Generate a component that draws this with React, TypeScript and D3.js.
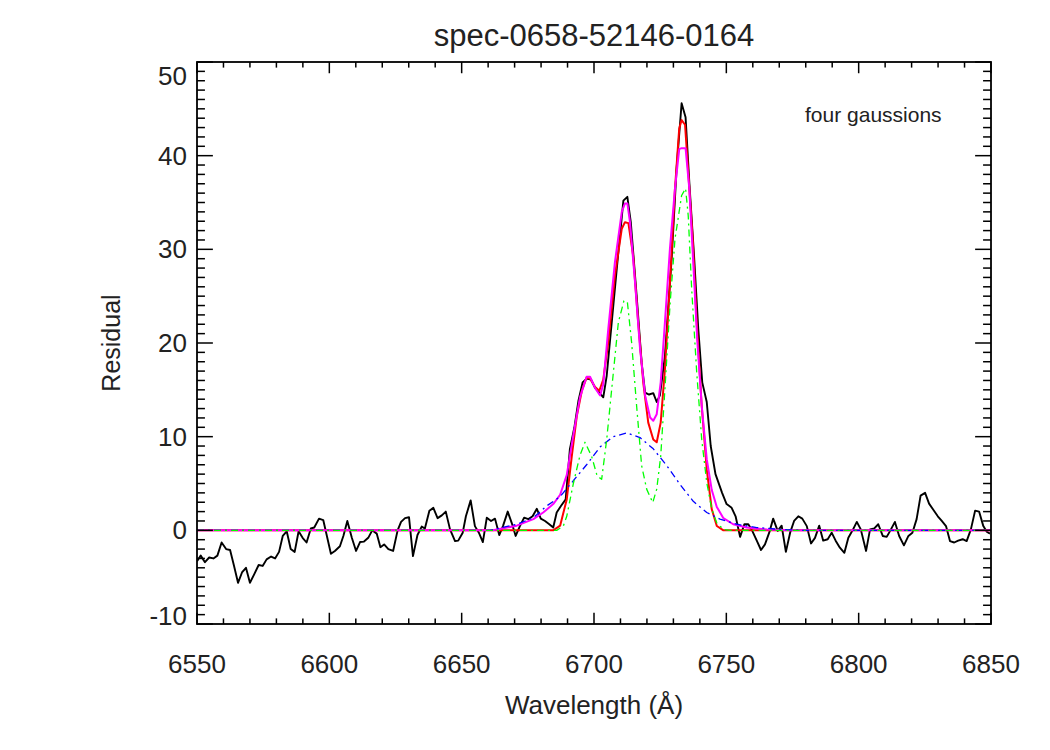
import React from "react";
import * as d3 from "d3";

const width = 1050;
const height = 750;
const frame = { left: 197, right: 991, top: 62, bottom: 624 };

const title = "spec-0658-52146-0164";
const xLabel = "Wavelength (Å)";
const yLabel = "Residual";
const note = "four gaussions";

const xTicks = [6550, 6600, 6650, 6700, 6750, 6800, 6850];
const yTicks = [-10, 0, 10, 20, 30, 40, 50];

// observed residual spectrum [wavelength, residual]
const observed: [number, number][] = [
  [6550.0, -3.3], [6551.4, -2.7], [6553.0, -3.4], [6554.6, -2.9], [6556.2, -3.0],
  [6557.7, -2.7], [6559.3, -1.3], [6561.0, -2.0], [6562.5, -2.1], [6564.0, -3.8],
  [6565.5, -5.6], [6567.0, -4.5], [6568.5, -4.0], [6570.0, -5.6], [6571.6, -4.7],
  [6573.3, -3.7], [6574.8, -3.8], [6576.3, -3.1], [6578.0, -2.8], [6579.5, -3.0],
  [6581.0, -2.3], [6582.4, -0.6], [6583.9, -0.1], [6585.4, -2.0], [6586.9, -2.3],
  [6588.4, -0.1], [6589.9, -0.8], [6591.4, -1.3], [6593.0, 0.2], [6594.3, 0.3],
  [6596.1, 1.25], [6597.7, 1.1], [6600.6, -2.5], [6602.1, -2.2], [6604.0, -1.7],
  [6605.3, -0.6], [6606.8, 1.0], [6608.5, -0.8], [6610.1, -2.2], [6611.6, -1.25],
  [6613.1, -1.2], [6614.7, -0.8], [6616.2, 0.0], [6617.9, -0.35], [6619.3, -1.8],
  [6620.7, -1.5], [6622.3, -2.0], [6624.1, -2.2], [6625.8, 0.0], [6627.1, 0.9],
  [6628.6, 1.3], [6630.1, 1.4], [6631.6, -2.75], [6633.3, -0.5], [6634.9, 0.4],
  [6636.1, 0.2], [6637.8, 2.1], [6639.3, 2.4], [6640.9, 1.3], [6642.5, 1.6],
  [6644.0, 2.0], [6645.6, 0.1], [6647.5, -1.15], [6648.7, -1.1], [6650.4, -0.25],
  [6651.6, 1.5], [6653.4, 3.2], [6655.0, 0.45], [6656.5, -0.25], [6658.0, -1.25],
  [6659.5, 1.35], [6661.1, 1.0], [6662.6, 1.25], [6664.2, -0.5], [6665.6, 0.45],
  [6667.4, 2.0], [6668.9, 0.8], [6670.4, -0.6], [6672.0, 0.45], [6673.6, 1.35],
  [6675.2, 1.2], [6676.8, 1.5], [6678.4, 2.3], [6679.9, 1.25], [6681.5, 1.0],
  [6683.1, 0.65], [6684.6, 0.3], [6685.9, 1.9], [6687.5, 2.6], [6689.3, 3.3],
  [6690.9, 8.7], [6692.6, 11.0], [6694.1, 13.8], [6695.7, 15.8], [6697.2, 16.2],
  [6698.9, 16.1], [6700.4, 15.2], [6702.0, 14.7], [6703.5, 14.2], [6704.8, 16.5],
  [6706.7, 22.2], [6708.6, 27.9], [6711.1, 35.2], [6712.6, 35.6], [6713.9, 32.9],
  [6716.1, 25.1], [6718.0, 17.9], [6719.3, 14.7], [6720.8, 14.5], [6722.4, 14.65],
  [6723.7, 13.7], [6724.9, 14.4], [6726.8, 18.6], [6729.4, 29.3], [6731.2, 38.6],
  [6733.1, 45.6], [6734.6, 44.1], [6736.0, 37.2], [6737.8, 29.3], [6739.4, 21.5],
  [6740.9, 15.8], [6742.6, 13.7], [6744.1, 9.0], [6745.9, 6.0], [6748.4, 4.0],
  [6750.1, 2.8], [6752.0, 2.4], [6753.5, 1.5], [6755.2, -0.7], [6756.8, 0.65],
  [6758.3, 0.65], [6759.8, -0.05], [6761.5, -1.1], [6763.1, -2.1], [6764.6, -1.5],
  [6766.2, -0.25], [6767.7, 1.25], [6769.4, -0.05], [6770.9, 0.5], [6772.5, -2.3],
  [6774.1, -0.25], [6775.6, 1.0], [6777.2, 1.5], [6778.7, 1.25], [6780.4, 0.45],
  [6782.0, -1.4], [6783.5, -0.8], [6785.1, 0.5], [6786.6, -1.1], [6788.3, -0.95],
  [6789.8, -0.25], [6791.3, -1.1], [6792.9, -1.85], [6794.6, -2.4], [6796.1, -0.8],
  [6797.7, 0.0], [6799.3, 0.9], [6800.8, 0.1], [6802.8, -2.2], [6804.3, 0.1],
  [6805.9, 0.2], [6807.4, 0.65], [6809.1, -0.6], [6810.6, -0.7], [6812.2, 0.1],
  [6813.7, 0.9], [6815.3, -0.6], [6817.1, -1.6], [6818.8, -0.6], [6820.3, -0.25],
  [6821.9, 1.2], [6823.4, 3.7], [6825.1, 4.0], [6826.6, 2.85], [6828.2, 2.2],
  [6829.9, 1.5], [6831.4, 1.0], [6833.0, 0.45], [6834.5, -1.15], [6836.1, -1.3],
  [6837.6, -1.1], [6839.3, -0.95], [6840.8, -1.15], [6842.4, 0.1], [6844.0, 2.1],
  [6845.5, 2.0], [6847.1, 0.45], [6848.4, -0.15], [6849.6, -0.35],
];

// total of the narrow components
const redFit: [number, number][] = [
  [6550, 0], [6684.6, 0], [6687.2, 0.5], [6689.7, 3.3], [6691.6, 7.9], [6693.5, 12.2],
  [6695.4, 14.9], [6697.2, 16.3], [6698.5, 16.2], [6700.4, 15.3], [6702.0, 14.9],
  [6703.5, 16.1], [6705.4, 20.1], [6707.9, 27.2], [6710.5, 32.2], [6711.7, 32.9],
  [6713.0, 32.8], [6714.8, 29.3], [6716.7, 22.2], [6718.6, 15.8], [6720.5, 11.5],
  [6722.4, 9.7], [6723.7, 9.4], [6725.2, 11.5], [6726.8, 17.2], [6728.7, 26.5],
  [6730.6, 36.5], [6732.2, 42.9], [6733.1, 43.8], [6734.4, 43.3], [6735.6, 38.3],
  [6737.3, 31.1], [6738.8, 22.2], [6740.7, 13.3], [6742.6, 6.5], [6744.5, 2.25],
  [6746.4, 0.46], [6748.9, 0], [6850, 0],
];

// four-gaussian total model
const magentaFit: [number, number][] = [
  [6550, 0], [6661.8, 0], [6670.8, 0.5], [6677.1, 1.2], [6680.8, 1.9], [6684.6, 2.8],
  [6687.2, 3.8], [6689.7, 5.9], [6692.2, 10.2], [6694.7, 14.2], [6697.2, 16.4],
  [6698.5, 16.4], [6700.4, 15.2], [6702.3, 14.4], [6703.5, 15.6], [6705.4, 21.5],
  [6707.9, 28.6], [6710.5, 34.0], [6711.7, 34.9], [6712.6, 34.9], [6713.6, 32.9],
  [6715.5, 26.5], [6717.4, 19.4], [6719.3, 14.4], [6721.2, 12.05], [6722.4, 11.7],
  [6723.7, 12.4], [6725.2, 15.8], [6726.8, 22.2], [6728.7, 30.1], [6730.6, 36.5],
  [6732.2, 40.7], [6733.1, 40.8], [6734.6, 40.8], [6736.0, 36.5], [6737.5, 28.6],
  [6739.0, 20.4], [6740.7, 13.3], [6742.6, 7.6], [6744.5, 4.3], [6746.4, 2.5],
  [6748.9, 1.3], [6752.6, 0.65], [6757.7, 0.3], [6765.3, 0.1], [6774.1, 0], [6850, 0],
];

// narrow gaussians
const greenComp: [number, number][] = [
  [6550, 0], [6685.9, 0], [6688.4, 0.45], [6689.7, 1.5], [6692.2, 5.0], [6694.7, 8.0],
  [6696.6, 9.4], [6699.1, 7.9], [6701.2, 5.8], [6702.9, 5.45], [6704.8, 9.7],
  [6706.7, 15.1], [6709.2, 22.2], [6711.3, 24.5], [6712.6, 24.4], [6714.2, 20.1],
  [6716.1, 13.3], [6718.0, 6.9], [6719.9, 4.4], [6722.2, 2.96], [6723.7, 4.4],
  [6725.2, 7.9], [6726.8, 15.1], [6728.7, 24.0], [6730.6, 31.1], [6733.1, 35.75],
  [6734.6, 36.5], [6735.6, 33.6], [6736.9, 25.8], [6738.8, 16.9], [6740.7, 9.7],
  [6742.6, 5.1], [6744.5, 2.25], [6746.4, 0.8], [6748.9, 0.1], [6751.4, 0], [6850, 0],
];

// broad gaussian
const blueComp: [number, number][] = [
  [6550, 0], [6660.7, 0], [6670.8, 0.65], [6677.1, 1.35], [6682.1, 2.6], [6687.2, 3.6],
  [6692.2, 5.3], [6697.2, 7.0], [6702.3, 8.9], [6707.3, 10.0], [6712.5, 10.4],
  [6717.4, 9.9], [6722.4, 8.7], [6727.5, 6.9], [6732.5, 4.9], [6737.5, 3.1],
  [6742.6, 1.9], [6747.6, 1.2], [6753.9, 0.65], [6761.5, 0.3], [6770.3, 0.1],
  [6777.8, 0], [6850, 0],
];

const font = "'Liberation Sans', Arial, Helvetica, sans-serif";
const ink = "#222";

export default function App() {
  const x = d3.scaleLinear().domain([6550, 6850]).range([frame.left, frame.right]);
  const y = d3.scaleLinear().domain([-10, 50]).range([frame.bottom, frame.top]);

  const line = d3
    .line<[number, number]>()
    .x((d) => x(d[0]))
    .y((d) => y(d[1]));

  const xMinor = d3.range(6550, 6851, 10).filter((v) => v % 50 !== 0);
  const yMinor = d3.range(-10, 51, 1).filter((v) => v % 10 !== 0);

  const plotW = frame.right - frame.left;
  const plotH = frame.bottom - frame.top;
  const xMajorLen = plotH * 0.02;
  const yMajorLen = plotW * 0.02;

  // keep the end labels inside the frame
  const yLabelPos = (v: number) =>
    Math.min(Math.max(y(v), frame.top + 14), frame.bottom - 8);

  const dashDot = "7,4,2,4";

  return (
    <svg
      width={width}
      height={height}
      style={{ position: "absolute", left: 0, top: 0, background: "#fff" }}
    >
      <defs>
        <clipPath id="plot-clip">
          <rect x={frame.left} y={frame.top} width={plotW} height={plotH} />
        </clipPath>
      </defs>

      <g clipPath="url(#plot-clip)" fill="none" strokeLinejoin="round">
        <path d={line(observed) ?? ""} stroke="#000" strokeWidth={1.9} />
        <path d={line(redFit) ?? ""} stroke="#ff0000" strokeWidth={2} />
        <path d={line(magentaFit) ?? ""} stroke="#ff00ff" strokeWidth={2} />
        <path
          d={line(blueComp) ?? ""}
          stroke="#0000ff"
          strokeWidth={1.3}
          strokeDasharray={dashDot}
        />
        <path
          d={line(greenComp) ?? ""}
          stroke="#00ff00"
          strokeWidth={1.3}
          strokeDasharray={dashDot}
        />
      </g>

      {/* frame */}
      <rect
        x={frame.left}
        y={frame.top}
        width={plotW}
        height={plotH}
        fill="none"
        stroke="#000"
        strokeWidth={1.8}
      />

      {/* ticks on all four sides */}
      <g stroke="#000" strokeWidth={1.5}>
        {xTicks.map((t) => (
          <g key={`xM${t}`}>
            <line x1={x(t)} x2={x(t)} y1={frame.bottom} y2={frame.bottom - xMajorLen} />
            <line x1={x(t)} x2={x(t)} y1={frame.top} y2={frame.top + xMajorLen} />
          </g>
        ))}
        {xMinor.map((t) => (
          <g key={`xm${t}`}>
            <line x1={x(t)} x2={x(t)} y1={frame.bottom} y2={frame.bottom - xMajorLen / 2} />
            <line x1={x(t)} x2={x(t)} y1={frame.top} y2={frame.top + xMajorLen / 2} />
          </g>
        ))}
        {yTicks.map((t) => (
          <g key={`yM${t}`}>
            <line x1={frame.left} x2={frame.left + yMajorLen} y1={y(t)} y2={y(t)} />
            <line x1={frame.right} x2={frame.right - yMajorLen} y1={y(t)} y2={y(t)} />
          </g>
        ))}
        {yMinor.map((t) => (
          <g key={`ym${t}`}>
            <line x1={frame.left} x2={frame.left + yMajorLen / 2} y1={y(t)} y2={y(t)} />
            <line x1={frame.right} x2={frame.right - yMajorLen / 2} y1={y(t)} y2={y(t)} />
          </g>
        ))}
      </g>

      <g fontFamily={font} fill={ink} fontSize={26}>
        {xTicks.map((t) => (
          <text key={`xl${t}`} x={x(t)} y={673} textAnchor="middle">
            {t}
          </text>
        ))}
        {yTicks.map((t) => (
          <text
            key={`yl${t}`}
            x={187}
            y={yLabelPos(t)}
            textAnchor="end"
            dominantBaseline="central"
          >
            {t}
          </text>
        ))}
      </g>

      <text
        x={(frame.left + frame.right) / 2}
        y={46}
        textAnchor="middle"
        fontFamily={font}
        fontSize={31}
        fill={ink}
      >
        {title}
      </text>
      <text
        x={(frame.left + frame.right) / 2}
        y={714}
        textAnchor="middle"
        fontFamily={font}
        fontSize={26}
        fill={ink}
      >
        {xLabel}
      </text>
      <text
        transform={`translate(120, ${(frame.top + frame.bottom) / 2}) rotate(-90)`}
        textAnchor="middle"
        fontFamily={font}
        fontSize={25}
        fill={ink}
      >
        {yLabel}
      </text>
      <text x={805} y={122} fontFamily={font} fontSize={21} fill={ink}>
        {note}
      </text>
    </svg>
  );
}
